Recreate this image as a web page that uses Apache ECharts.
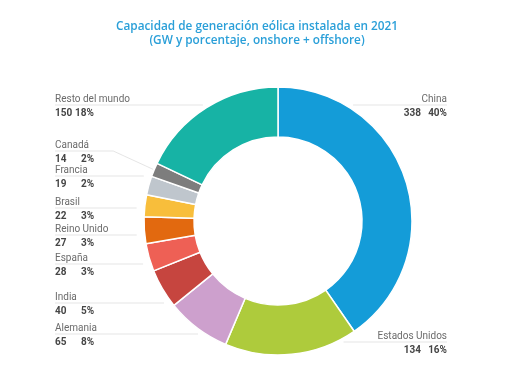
<!DOCTYPE html>
<html>
<head>
<meta charset="utf-8">
<script src="https://cdn.jsdelivr.net/npm/echarts@6/dist/echarts.min.js"></script>
<style>html,body{margin:0;padding:0;background:#fff}#c{width:510px;height:382px}</style>
</head>
<body>
<div id="c"></div>
<script>
var titleText = 'Capacidad de generación eólica instalada en 2021\n(GW y porcentaje, onshore + offshore)';
var categories = ['China', 'Estados Unidos', 'Alemania', 'India', 'España', 'Reino Unido', 'Brasil', 'Francia', 'Canadá', 'Resto del mundo'];
var values = [338, 134, 65, 40, 28, 27, 22, 19, 14, 150];
var percents = ['40%', '16%', '8%', '5%', '3%', '3%', '3%', '2%', '2%', '18%'];
var colors = ['#149cd8', '#aecb3c', '#cda0cd', '#c6453f', '#ee6055', '#e2690f', '#f8be3b', '#bfc6cd', '#7d7d7d', '#17b3a5'];

// label layout (annotation placement)
var CX = 278, CY = 221, R_IN = 84, R_OUT = 134;
var LEFT_EDGE = 55, RIGHT_EDGE = 447, GAP = 8;
var labelLineY = [105, 342, 334, 303, 264, 235, 208, 176, 151, 105];

var total = values.reduce(function (a, b) { return a + b; }, 0);
var sliceStart = [], sliceEnd = [];
(function () {
  var acc = 0;
  values.forEach(function (v, i) {
    sliceStart[i] = acc / total * 360;
    acc += v;
    sliceEnd[i] = acc / total * 360;
  });
})();
function isLeftSide(i) { return (sliceStart[i] + sliceEnd[i]) / 2 > 180; }

var data = categories.map(function (c, i) {
  return { name: c, value: values[i], pct: percents[i], itemStyle: { color: colors[i] } };
});

function layoutLabel(params) {
  var i = params.dataIndex;
  var ly = labelLineY[i];
  var mid = (sliceStart[i] + sliceEnd[i]) / 2;
  var isLeft = isLeftSide(i);
  var dy = ly - CY;
  var dx = Math.sqrt(Math.max(R_OUT * R_OUT - dy * dy, 0));
  var xr = isLeft ? CX - dx : CX + dx;
  var ang = Math.atan2(xr - CX, -(ly - CY)) * 180 / Math.PI;
  if (ang < 0) ang += 360;
  var endX = isLeft ? LEFT_EDGE : RIGHT_EDGE;
  var pts;
  if (ang >= sliceStart[i] - 1 && ang <= sliceEnd[i] + 1) {
    var sx = isLeft ? xr - GAP : xr + GAP;
    pts = [[sx, ly], [sx, ly], [endX, ly]];
  } else {
    var rad = mid * Math.PI / 180;
    var px = CX + (R_OUT + 1) * Math.sin(rad);
    var py = CY - (R_OUT + 1) * Math.cos(rad);
    var bx = isLeft ? px - 40 : px + 40;
    pts = [[px, py], [bx, ly], [endX, ly]];
  }
  return {
    x: endX,
    y: ly + 2,
    align: isLeft ? 'left' : 'right',
    verticalAlign: 'middle',
    labelLinePoints: pts
  };
}

var valStyle = { fontFamily: 'Roboto', fontSize: 10, fontWeight: 'bold', color: '#454545', lineHeight: 16 };
function vs(extra) { return Object.assign({}, valStyle, extra); }

var chart = echarts.init(document.getElementById('c'), null, { renderer: 'canvas' });
chart.setOption({
  backgroundColor: '#fff',
  animation: false,
  title: {
    text: titleText,
    left: 252,
    textAlign: 'center',
    top: 15,
    textStyle: { fontFamily: 'Open Sans', fontSize: 11.8, fontWeight: 600, color: '#2a9fd8', lineHeight: 14 }
  },
  series: [{
    type: 'pie',
    center: [CX, CY],
    radius: [R_IN, R_OUT],
    startAngle: 90,
    clockwise: true,
    avoidLabelOverlap: false,
    itemStyle: { borderColor: '#fff', borderWidth: 1.5 },
    label: {
      show: true,
      position: 'outside',
      overflow: 'none',
      fontFamily: 'Roboto',
      formatter: function (p) {
        var line2;
        if (isLeftSide(p.dataIndex)) {
          var v = p.data.pct.length > 2 ? 'v2' : 'v1';
          line2 = '{' + v + '|' + p.value + '}{p|' + p.data.pct + '}';
        } else {
          line2 = '{p|' + p.value + '}{pr|' + p.data.pct + '}';
        }
        return '{name|' + p.name + '}\n' + line2;
      },
      rich: {
        name: { fontFamily: 'Roboto', fontSize: 10, color: '#6b6b6b', lineHeight: 12 },
        v2: vs({ width: 20, align: 'left' }),
        v1: vs({ width: 26, align: 'left' }),
        p: vs({}),
        pr: vs({ width: 26 })
      }
    },
    labelLine: {
      show: true,
      length: 8,
      length2: 10,
      lineStyle: { color: '#dedede', width: 0.8 }
    },
    labelLayout: layoutLabel,
    data: data
  }]
});
</script>
</body>
</html>
